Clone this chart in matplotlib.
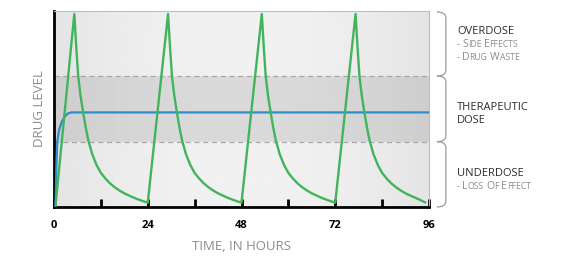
import matplotlib
matplotlib.use("Agg")
import numpy as np
import matplotlib.pyplot as plt
from matplotlib.path import Path
from matplotlib.patches import PathPatch
from matplotlib.offsetbox import TextArea, HPacker, VPacker, AnnotationBbox
import matplotlib.transforms as mtransforms

plt.rcParams['font.family'] = ['Open Sans', 'DejaVu Sans']

# drug level (0 = bottom, 100 = top of chart)
dose_t = [0.4, 5.2, 5.7, 6.2, 6.8, 7.5, 8.1, 8.8, 9.8, 10.9, 12.0, 13.2, 14.3, 15.5, 16.8, 18.0, 19.5, 21.0, 22.5, 24.0,
          29.2, 29.7, 30.2, 30.8, 31.5, 32.1, 32.8, 33.8, 34.9, 36.0, 37.2, 38.3, 39.5, 40.8, 42.0, 43.5, 45.0, 46.5, 48.0,
          53.2, 53.7, 54.2, 54.8, 55.5, 56.1, 56.8, 57.8, 58.9, 60.0, 61.2, 62.3, 63.5, 64.8, 66.0, 67.5, 69.0, 70.5, 72.0,
          77.2, 77.7, 78.2, 78.8, 79.5, 80.1, 80.8, 81.8, 82.9, 84.0, 85.2, 86.3, 87.5, 88.8, 90.0, 91.5, 93.0, 95.0]
dose_level = [1, 99, 82, 67, 57, 48, 41, 34, 27, 21.5, 17.5, 14.5, 12.2, 10.2, 8.4, 7.0, 5.6, 4.3, 3.2, 2.2,
              99, 82, 67, 57, 48, 41, 34, 27, 21.5, 17.5, 14.5, 12.2, 10.2, 8.4, 7.0, 5.6, 4.3, 3.2, 2.2,
              99, 82, 67, 57, 48, 41, 34, 27, 21.5, 17.5, 14.5, 12.2, 10.2, 8.4, 7.0, 5.6, 4.3, 3.2, 2.2,
              99, 82, 67, 57, 48, 41, 34, 27, 21.5, 17.5, 14.5, 12.2, 10.2, 8.4, 7.0, 5.6, 4.3, 2.4]

steady_t = [0.4, 0.6, 0.85, 1.3, 2.0, 2.8, 3.6, 4.5, 96]
steady_level = [0, 20, 33.7, 39.5, 43.7, 46.5, 48.0, 48.5, 48.5]

band_low = 33.5
band_high = 67.2
y_top = 100.5

x_ticks = [0, 24, 48, 72, 96]
x_minor = [12, 36, 60, 84]

fig = plt.figure(figsize=(5.74, 2.7), dpi=100)
ax = fig.add_axes([54/574, 63/270, 375/574, 196/270])

ax.set_xlim(0, 96)
ax.set_ylim(0, y_top)

# background zones with a soft lighter middle
xs = np.linspace(-1, 1, 200)
glow = 1 - xs**2
ys = np.linspace(0, y_top, 400)
base = np.where((ys >= band_low) & (ys <= band_high), 0.805, 0.895)
shade = base[:, None] + 0.05 * glow[None, :]
ax.imshow(shade, cmap='gray', vmin=0, vmax=1, origin='lower', aspect='auto',
          extent=(0, 96, 0, y_top), zorder=0, interpolation='bilinear')
ax.axhline(band_low, color='#a8a8a8', lw=0.9, ls=(0, (4, 3)), zorder=1)
ax.axhline(band_high, color='#a8a8a8', lw=0.9, ls=(0, (4, 3)), zorder=1)

ax.plot(steady_t, steady_level, color='#2b8fcb', lw=1.6, zorder=3, solid_capstyle='butt')
ax.plot(dose_t, dose_level, color='#42b45c', lw=1.7, zorder=4)

for s in ['top', 'right']:
    ax.spines[s].set_color('#bdbdbd')
    ax.spines[s].set_linewidth(0.8)
for s in ['left', 'bottom']:
    ax.spines[s].set_color('black')
    ax.spines[s].set_linewidth(2)

ax.set_yticks([])
ax.set_xticks(x_ticks)
ax.set_xticks(x_minor, minor=True)
ax.set_xticklabels([str(v) for v in x_ticks], fontweight='bold', fontsize=8)
ax.tick_params(axis='x', which='both', direction='in', length=6, width=2, color='black', pad=9)

ax.set_ylabel('DRUG LEVEL', color='#8c8c8c', fontsize=9.5, labelpad=6)
ax.set_xlabel('TIME, IN HOURS', color='#8c8c8c', fontsize=9.5, labelpad=7)

# braces on the right
tr = mtransforms.blended_transform_factory(ax.transAxes, ax.transData)
x_in, x_out = 1.021, 1.045
for lo, hi in [(0, band_low), (band_low, band_high), (band_high, y_top - 0.5)]:
    verts = [(x_in, hi), (x_out, hi), (x_out, hi - 3),
             (x_out, lo + 3), (x_out, lo), (x_in, lo)]
    codes = [Path.MOVETO, Path.CURVE3, Path.CURVE3, Path.LINETO, Path.CURVE3, Path.CURVE3]
    ax.add_patch(PathPatch(Path(verts, codes), transform=tr, fill=False,
                           edgecolor='#9a9a9a', lw=0.9, clip_on=False))


def small_caps(text, big, small, color):
    parts = []
    for word in text.split(' '):
        if parts:
            parts.append(TextArea(' ', textprops=dict(fontsize=small, color=color)))
        if word == '-':
            parts.append(TextArea('-', textprops=dict(fontsize=small, color=color)))
            continue
        parts.append(TextArea(word[0].upper(), textprops=dict(fontsize=big, color=color)))
        if len(word) > 1:
            parts.append(TextArea(word[1:].upper(), textprops=dict(fontsize=small, color=color)))
    return HPacker(children=parts, align='baseline', pad=0, sep=0)


def label_block(y, head, subs):
    rows = [TextArea(h, textprops=dict(fontsize=8, color='#2b2b2b')) for h in head]
    rows += [small_caps(s, 7.6, 6.2, '#8c8c8c') for s in subs]
    box = VPacker(children=rows, align='left', pad=0, sep=1.5)
    ab = AnnotationBbox(box, (1.075, y), xycoords=tr, box_alignment=(0, 0.5),
                        frameon=False, pad=0, annotation_clip=False)
    ax.add_artist(ab)


label_block(83.5, ['OVERDOSE'], ['- Side Effects', '- Drug Waste'])
label_block(47.5, ['THERAPEUTIC', 'DOSE'], [])
label_block(14.0, ['UNDERDOSE'], ['- Loss of Effect'])

fig.savefig('out.png', dpi=100, facecolor='white')
